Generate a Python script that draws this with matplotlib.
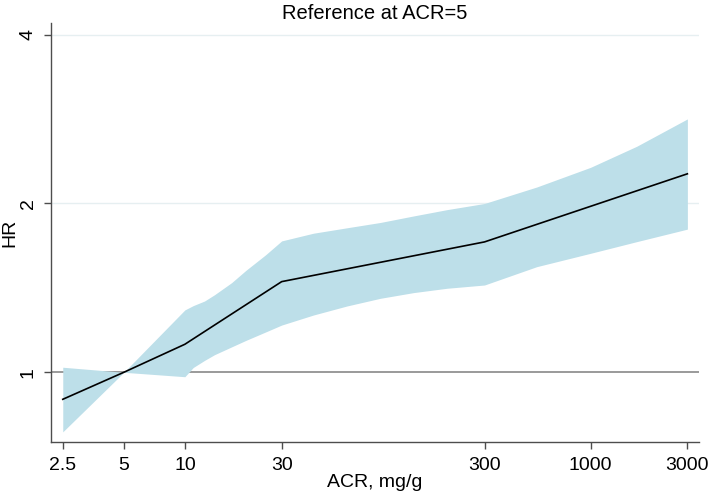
import matplotlib
matplotlib.use("Agg")
import matplotlib.pyplot as plt
from matplotlib.ticker import FixedLocator, NullLocator

# ---- data ----
acr_knots = [2.5, 5, 10, 30, 300, 3000]
hr_line = [0.895, 1.0, 1.122, 1.451, 1.708, 2.259]

acr_band = [2.5, 5, 10, 11, 12.5, 14, 17, 20, 25, 30, 43, 63, 92, 134, 196, 300,
            543, 1000, 1690, 3000]
hr_upper = [1.021, 1.0, 1.292, 1.315, 1.34, 1.375, 1.445, 1.52, 1.62, 1.715, 1.77,
            1.81, 1.85, 1.90, 1.95, 2.0, 2.14, 2.32, 2.53, 2.83]
hr_lower = [0.783, 1.0, 0.982, 1.02, 1.05, 1.075, 1.11, 1.14, 1.18, 1.214, 1.265,
            1.313, 1.355, 1.387, 1.412, 1.431, 1.543, 1.63, 1.71, 1.80]

x_ticks = [2.5, 5, 10, 30, 300, 1000, 3000]
x_ticklabels = ["2.5", "5", "10", "30", "300", "1000", "3000"]
y_ticks = [1, 2, 4]
y_ticklabels = ["1", "2", "4"]

title = "Reference at ACR=5"
xlabel = "ACR, mg/g"
ylabel = "HR"

# ---- figure ----
plt.rcParams['font.family'] = ['Liberation Sans', 'DejaVu Sans']
fig = plt.figure(figsize=(7.09, 4.95), dpi=100)
ax = fig.add_axes([0.0715, 0.107, 0.9145, 0.847])

ax.set_xscale('log')
ax.set_yscale('log')
ax.set_xlim(2.18, 3426)
ax.set_ylim(0.751, 4.2)

# grid lines and reference line (below band)
for yv in [2, 4]:
    ax.axhline(yv, color='#e6eff1', lw=1.0, zorder=1)
ax.axhline(1, color='#7f7f7f', lw=1.1, zorder=1)

ax.fill_between(acr_band, hr_lower, hr_upper, color='#bddfe9', lw=0, zorder=2)
ax.plot(acr_knots, hr_line, color='black', lw=1.2, zorder=3)

ax.xaxis.set_major_locator(FixedLocator(x_ticks))
ax.xaxis.set_minor_locator(NullLocator())
ax.set_xticklabels(x_ticklabels)
ax.yaxis.set_major_locator(FixedLocator(y_ticks))
ax.yaxis.set_minor_locator(NullLocator())
ax.set_yticklabels(y_ticklabels, rotation=90, va='center')

for s in ['top', 'right']:
    ax.spines[s].set_visible(False)
for s in ['left', 'bottom']:
    ax.spines[s].set_color('#4d4d4d')
    ax.spines[s].set_linewidth(1.0)

ax.tick_params(axis='both', direction='out', length=5, width=1.0,
               color='#4d4d4d', labelsize=14, labelcolor='black')
ax.tick_params(axis='x', pad=6)
ax.tick_params(axis='y', pad=5)

ax.set_xlabel(xlabel, fontsize=14, labelpad=0)
fig.text(10 / 709, 1 - 233 / 495, ylabel, rotation=90, ha='center',
         va='center', fontsize=14)
ax.set_title(title, fontsize=14.5, pad=3)

fig.savefig("out.png", dpi=100)
